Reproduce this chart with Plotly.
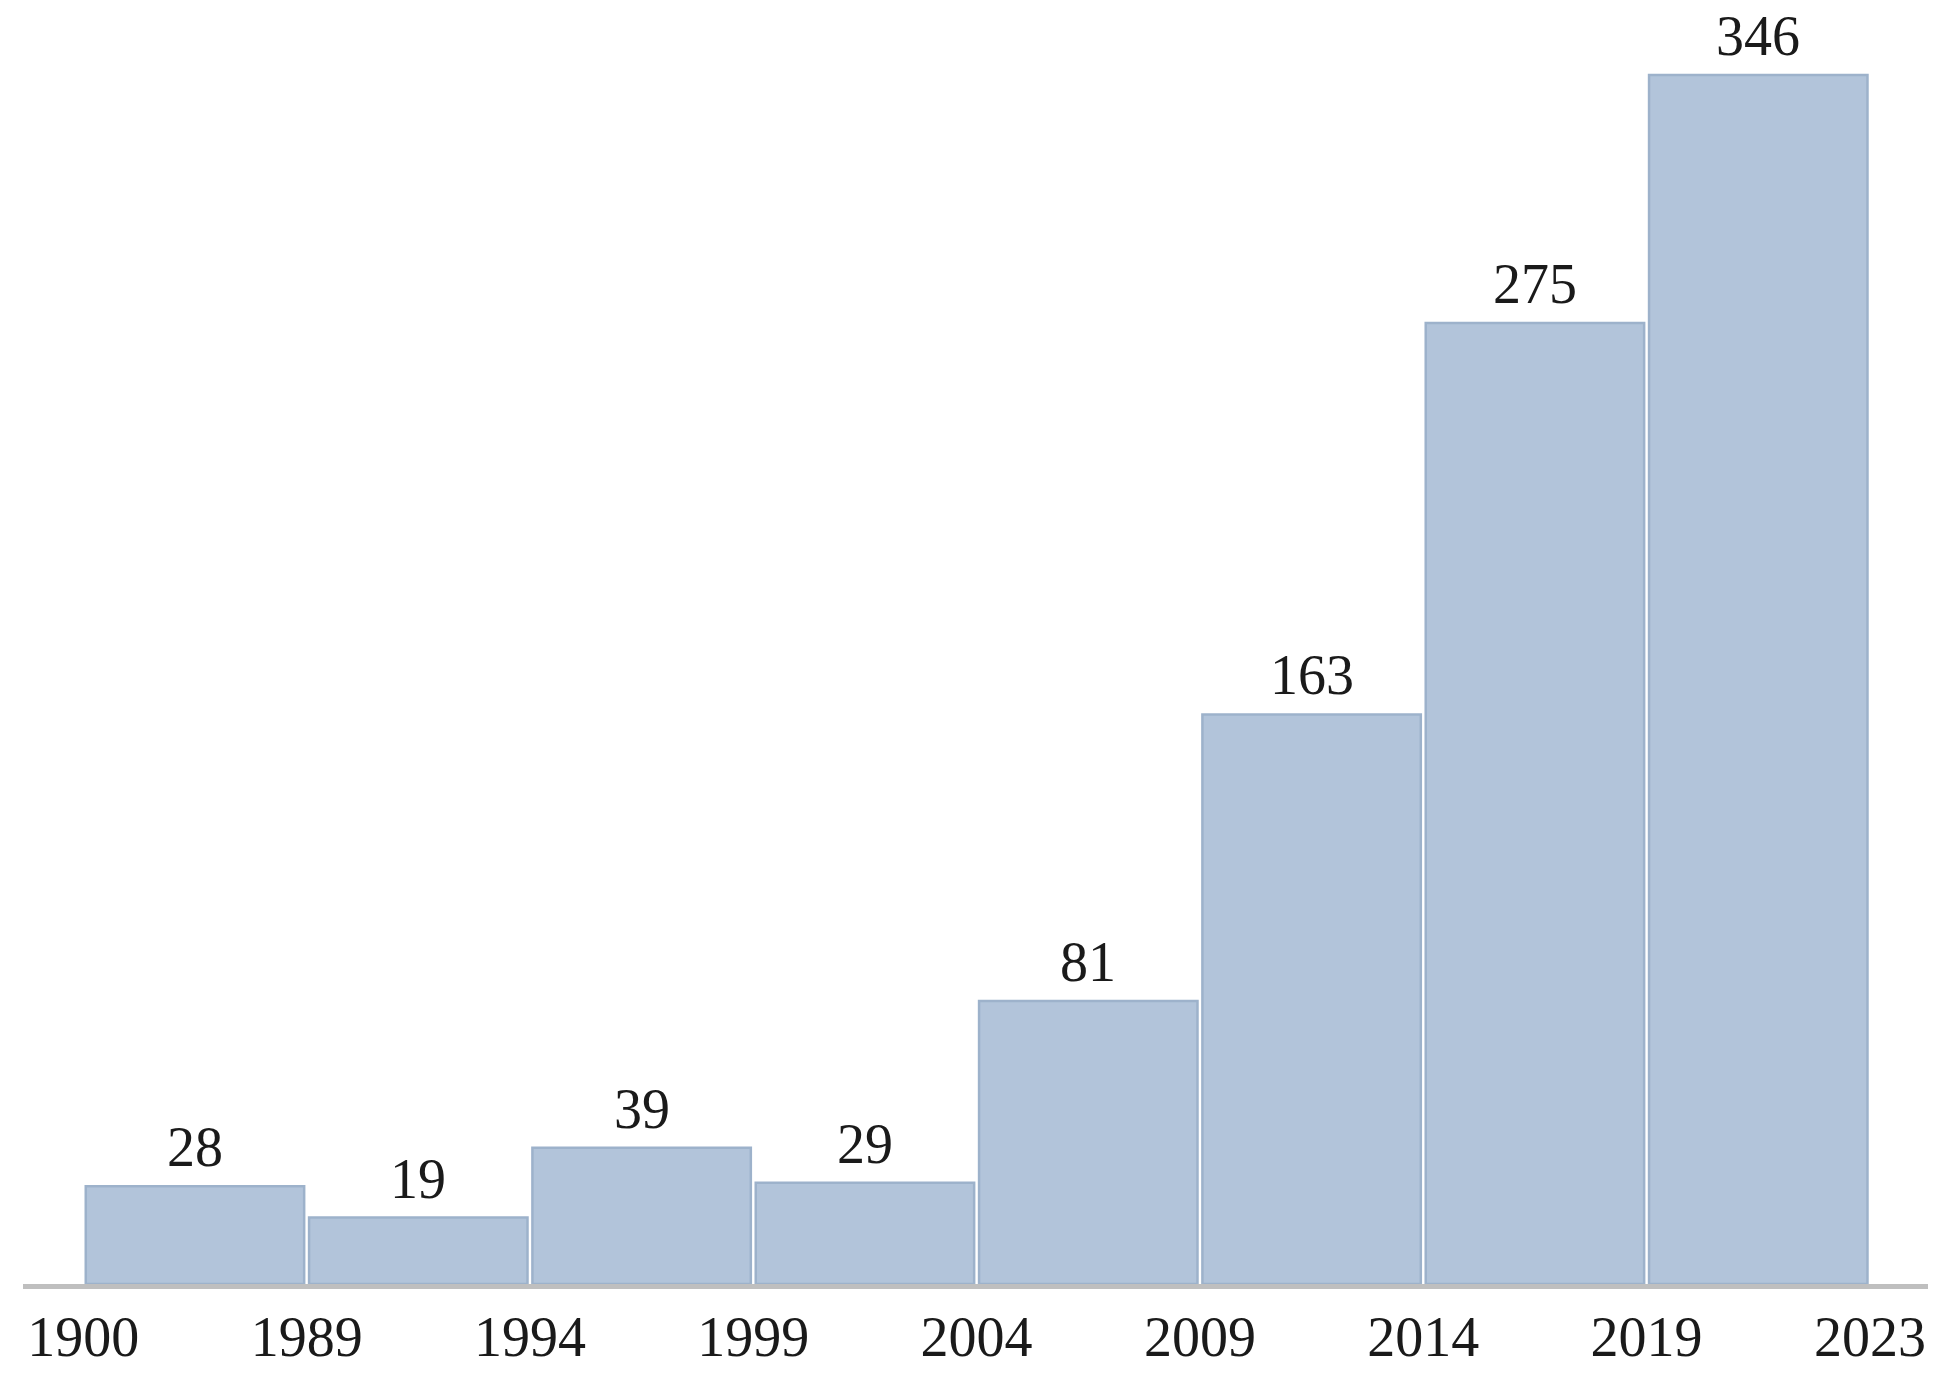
import plotly.graph_objects as go

edge_labels = ["1900", "1989", "1994", "1999", "2004", "2009", "2014", "2019", "2023"]
counts = [28, 19, 39, 29, 81, 163, 275, 346]

centers = [i + 0.5 for i in range(len(counts))]
edges = list(range(len(edge_labels)))

FONT = "Liberation Serif, Times New Roman, serif"

fig = go.Figure()
fig.add_trace(go.Bar(
    x=centers, y=counts, width=0.978,
    marker=dict(color="#B2C4DA", line=dict(color="#9DB2CB", width=2.5)),
    hoverinfo="x+y",
))

for c, v in zip(centers, counts):
    fig.add_annotation(x=c, y=v, text=str(v), showarrow=False,
                       yanchor="bottom", yshift=6,
                       font=dict(family=FONT, size=56, color="#1a1a1a"))

fig.update_layout(
    width=1955, height=1381,
    margin=dict(l=23, r=27, t=10, b=97),
    plot_bgcolor="white", paper_bgcolor="white",
    showlegend=False,
    xaxis=dict(range=[-0.27, 8.26], tickvals=edges, ticktext=edge_labels,
               automargin=False,
               showgrid=False, zeroline=False, showline=True,
               linecolor="#BFBFBF", linewidth=5,
               ticks="",
               tickfont=dict(family=FONT, size=56, color="#1a1a1a")),
    yaxis=dict(range=[0, 364.6], visible=False, showgrid=False, zeroline=False,
               automargin=False),
)

fig.write_html("out.html", config={"displayModeBar": False},
               post_script="document.body.style.margin='0';")
